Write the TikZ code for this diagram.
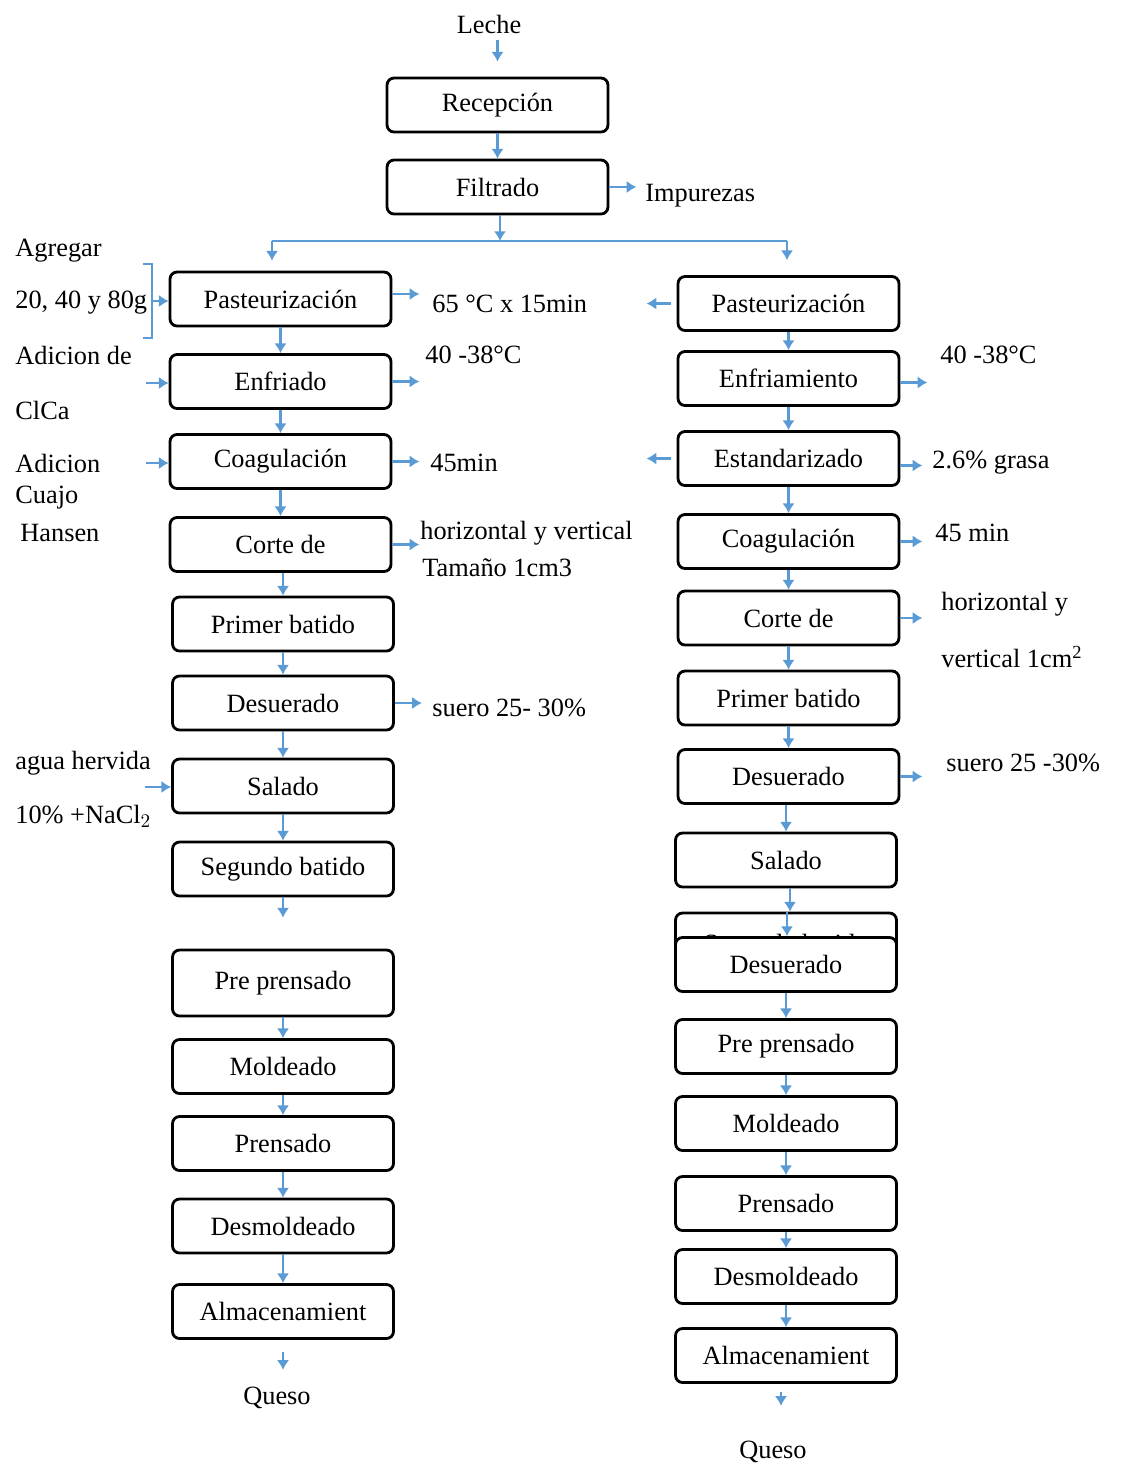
\documentclass[tikz,border=0pt]{standalone}
\usepackage{fontspec}
\setmainfont{Liberation Serif}
\usetikzlibrary{arrows.meta}
\definecolor{arrowblue}{RGB}{91,155,213}
\tikzset{
  box/.style={draw=black, line width=1.6pt, rounded corners=4pt, fill=white,
    minimum width=4.42cm, minimum height=1.08cm, inner sep=0pt,
    font=\fontsize{15}{18}\selectfont},
  arr/.style={draw=arrowblue, line width=1.4pt, -{Latex[length=5.5pt,width=7pt]}},
  bline/.style={draw=arrowblue, line width=1.4pt},
  lbl/.style={anchor=west, inner sep=0pt, font=\fontsize{15}{18}\selectfont},
  ctr/.style={inner sep=0pt, font=\fontsize{15}{18}\selectfont},
}
\begin{document}
\begin{tikzpicture}[x=0.02cm, y=-0.02cm]
\useasboundingbox (0,0) rectangle (1122,1468);
% top
\node[ctr] (leche) at (489,24) {Leche};
\node[box] (recep) at (497.5,105) {Recepción};
\node[box] (filt) at (497.5,187) {Filtrado};
\node[lbl] (imp) at (645,196) {Impurezas};
\draw[arr] (recep.north |- leche.south) ++(0,6) -- ([yshift=0.3cm]recep.north);
\draw[arr] (recep.south) -- (filt.north);
\draw[arr] (filt.east) -- ++(27,0);
\coordinate (split) at (500,241);
\coordinate (sl) at (272,241);
\coordinate (sr) at (787,241);
\draw[arr] (split |- filt.south) -- (split);
\draw[bline] (sl) -- (sr);

% left column
\node[box] (pL) at (280.5,299) {Pasteurización};
\node[box] (enL) at (280.5,381.5) {Enfriado};
\node[box] (coL) at (280.5,461.5) {Coagulación};
\node[box] (ctL) at (280.5,544.5) {Corte de};
\node[box] (pbL) at (283,624) {Primer batido};
\node[box] (deL) at (283,703) {Desuerado};
\node[box] (saL) at (283,786) {Salado};
\node[box] (sbL) at (283,869) {Segundo batido};
\node[box, minimum height=1.32cm] (ppL) at (283,983) {Pre prensado};
\node[box] (moL) at (283,1066.5) {Moldeado};
\node[box] (prL) at (283,1143.5) {Prensado};
\node[box] (dmL) at (283,1226) {Desmoldeado};
\node[box] (alL) at (283,1311.5) {Almacenamient};
\node[ctr] (quL) at (277,1398) {Queso};

\draw[arr] (sl) -- ([yshift=0.2cm]pL.north -| sl);
\draw[arr] (pL.south) -- (enL.north);
\draw[arr] (enL.south) -- (coL.north);
\draw[arr] (coL.south) -- (ctL.north);
\draw[arr] (pbL.north |- ctL.south) -- (pbL.north);
\draw[arr] (pbL.south) -- (deL.north);
\draw[arr] (deL.south) -- (saL.north);
\draw[arr] (saL.south) -- (sbL.north);
\draw[arr, shorten >=0.62cm] (sbL.south) -- (ppL.north);
\draw[arr] (ppL.south) -- (moL.north);
\draw[arr] (moL.south) -- (prL.north);
\draw[arr] (prL.south) -- (dmL.north);
\draw[arr] (dmL.south) -- (alL.north);
\draw[arr, shorten <=0.24cm, shorten >=0.34cm] (alL.south) -- (alL.south |- quL.north);

% left side labels
\node[lbl] (t65) at (432,304) {65 °C x 15min};
\node[lbl] (t40L) at (425,355) {40 -38°C};
\node[lbl] (t45L) at (430,463) {45min};
\node[lbl] (thvL) at (420,533) {horizontal y vertical};
\node[lbl] (ttam) at (422,568) {Tamaño 1cm3};
\node[lbl] (tsuL) at (432,708) {suero 25- 30\%};
\draw[arr] (pL.east) ++(0,-5) -- ++(27,0);
\draw[arr] (enL.east) -- ++(27,0);
\draw[arr] (coL.east) -- ++(27,0);
\draw[arr] (ctL.east) -- ++(27,0);
\draw[arr] (deL.east) -- ++(27,0);

\node[lbl] (tagr) at (15,251) {Agregar};
\node[lbl] (t2040) at (15,303) {20, 40 y 80g};
\node[lbl] (tadc) at (15,355) {Adicion de};
\node[lbl] (tclca) at (15,410) {ClCa};
\node[lbl] (tadi) at (15,463) {Adicion};
\node[lbl] (tcua) at (15,498) {Cuajo};
\node[lbl] (than) at (20,533) {Hansen};
\node[lbl] (tagu) at (15,763) {agua hervida};
\node[lbl] (tnacl) at (15,816) {10\% +NaCl$_2$};
\draw[bline] (143,264) -- (152,264) -- (152,338) -- (143,338);
\coordinate (brk) at (152,301);
\coordinate (inEn) at (146,383);
\coordinate (inCo) at (146,463);
\coordinate (inSa) at (145,787);
\draw[arr] (brk) -- (brk -| pL.west);
\draw[arr] (inEn) -- (inEn -| enL.west);
\draw[arr] (inCo) -- (inCo -| coL.west);
\draw[arr] (inSa) -- (inSa -| saL.west);

% right column
\node[box] (pR) at (788.5,303.5) {Pasteurización};
\node[box] (enR) at (788.5,378.5) {Enfriamiento};
\node[box] (esR) at (788.5,458.5) {Estandarizado};
\node[box] (coR) at (788.5,541.5) {Coagulación};
\node[box] (ctR) at (788.5,618) {Corte de};
\node[box] (pbR) at (788.5,698) {Primer batido};
\node[box] (deR) at (788.5,776.5) {Desuerado};
\node[box] (saR) at (786,860) {Salado};
\node[box] (sbR) at (786,940) {};
\node[ctr] (sbRt) at (786,946) {Segundo batido};
\node[box] (de2R) at (786,964.5) {Desuerado};
\node[box] (ppR) at (786,1046.5) {Pre prensado};
\node[box] (moR) at (786,1123.5) {Moldeado};
\node[box] (prR) at (786,1203.5) {Prensado};
\node[box] (dmR) at (786,1276.5) {Desmoldeado};
\node[box] (alR) at (786,1355.5) {Almacenamient};
\node[ctr] (quR) at (773,1452) {Queso};

\draw[arr] (sr) -- ([yshift=0.3cm]pR.north -| sr);
\draw[arr] (pR.south) -- (enR.north);
\draw[arr] (enR.south) -- (esR.north);
\draw[arr] (esR.south) -- (coR.north);
\draw[arr] (coR.south) -- (ctR.north);
\draw[arr] (ctR.south) -- (pbR.north);
\draw[arr] (pbR.south) -- (deR.north);
\draw[arr] (saR.north |- deR.south) -- (saR.north);
\draw[arr] ([xshift=0.08cm]saR.south) -- ([xshift=0.08cm]sbR.north);
\draw[arr] ([xshift=0.02cm]sbR.north) -- ([xshift=0.02cm]de2R.north);
\draw[arr] (de2R.south) -- (ppR.north);
\draw[arr] (ppR.south) -- (moR.north);
\draw[arr] (moR.south) -- (prR.north);
\draw[arr] (prR.south) -- (dmR.north);
\draw[arr] (dmR.south) -- (alR.north);
\draw[arr, shorten <=0.16cm, shorten >=0.7cm] ([xshift=-0.1cm]alR.south) -- ([xshift=-0.1cm]alR.south |- quR.north);

% right side labels
\node[lbl] (t40R) at (940,355) {40 -38°C};
\node[lbl] (tgra) at (932,463) {2.6\% grasa};
\node[lbl] (t45R) at (935,533) {45 min};
\node[lbl] (thvR) at (941,604) {horizontal y};
\node[lbl] (tver) at (941,657) {vertical 1cm\textsuperscript{2}};
\node[lbl] (tsuR) at (946,763) {suero 25 -30\%};
\draw[arr] (pR.west) ++(-6,0) -- ++(-24,0);
\draw[arr] (esR.west) ++(-6,0) -- ++(-24,0);
\draw[arr] (enR.east) ++(0,4) -- ++(27,0);
\draw[arr] (esR.east) ++(0,7) -- ++(22,0);
\draw[arr] (coR.east) -- ++(22,0);
\draw[arr] (ctR.east) -- ++(22,0);
\draw[arr] (deR.east) -- ++(22,0);
\end{tikzpicture}
\end{document}
